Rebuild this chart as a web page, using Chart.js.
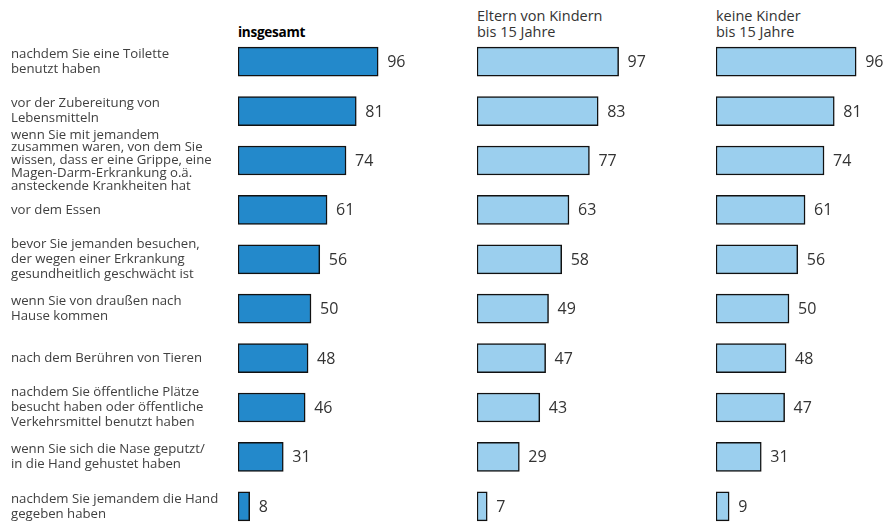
<!DOCTYPE html>
<html>
<head>
<meta charset="utf-8">
<script src="https://cdn.jsdelivr.net/npm/chart.js@4/dist/chart.umd.min.js"></script>
<style>
  html, body { margin: 0; padding: 0; background: #fff; overflow: hidden; }
  body { width: 886px; height: 525px; position: relative; font-family: "Open Sans", sans-serif; }
  .head { position: absolute; font-size: 14.5px; line-height: 16px; color: #333; }
  .head.bold { font-size: 13.6px; font-weight: bold; color: #000; letter-spacing: -0.3px; }
  canvas { position: absolute; top: 0; }
</style>
</head>
<body>
<div class="head bold" style="left:238px; top:24px;">insgesamt</div>
<div class="head" style="left:477px; top:8px;">Eltern von Kindern<br>bis 15 Jahre</div>
<div class="head" style="left:716px; top:8px;">keine Kinder<br>bis 15 Jahre</div>

<div style="position:absolute;left:0;top:0;width:460px;height:531px;"><canvas id="c1"></canvas></div>
<div style="position:absolute;left:477px;top:0;width:200px;height:531px;"><canvas id="c2"></canvas></div>
<div style="position:absolute;left:716px;top:0;width:170px;height:531px;"><canvas id="c3"></canvas></div>

<script>
const kategorien = [
  ['nachdem Sie eine Toilette', 'benutzt haben'],
  ['vor der Zubereitung von', 'Lebensmitteln'],
  ['wenn Sie mit jemandem', 'zusammen waren, von dem Sie', 'wissen, dass er eine Grippe, eine', 'Magen-Darm-Erkrankung o.ä.', 'ansteckende Krankheiten hat'],
  'vor dem Essen',
  ['bevor Sie jemanden besuchen,', 'der wegen einer Erkrankung', 'gesundheitlich geschwächt ist'],
  ['wenn Sie von draußen nach', 'Hause kommen'],
  'nach dem Berühren von Tieren',
  ['nachdem Sie öffentliche Plätze', 'besucht haben oder öffentliche', 'Verkehrsmittel benutzt haben'],
  ['wenn Sie sich die Nase geputzt/', 'in die Hand gehustet haben'],
  ['nachdem Sie jemandem die Hand', 'gegeben haben']
];
const insgesamt = [96, 81, 74, 61, 56, 50, 48, 46, 31, 8];
const eltern = [97, 83, 77, 63, 58, 49, 47, 43, 29, 7];
const keineKinder = [96, 81, 74, 61, 56, 50, 48, 47, 31, 9];

const FONT = '"Open Sans", sans-serif';

const valueLabels = {
  id: 'valueLabels',
  afterDatasetsDraw(chart) {
    const ctx = chart.ctx;
    const meta = chart.getDatasetMeta(0);
    const data = chart.data.datasets[0].data;
    ctx.save();
    ctx.font = '16px ' + FONT;
    ctx.fillStyle = '#333';
    ctx.textAlign = 'left';
    ctx.textBaseline = 'middle';
    meta.data.forEach((bar, i) => {
      ctx.fillText(String(data[i]), bar.x + 9, bar.y + 1);
    });
    ctx.restore();
  }
};

function makeChart(id, values, color, showLabels, padRight) {
  return new Chart(document.getElementById(id), {
    type: 'bar',
    data: {
      labels: kategorien,
      datasets: [{
        data: values,
        backgroundColor: color,
        borderColor: '#111',
        borderWidth: 1.5,
        borderSkipped: false,
        barThickness: 29
      }]
    },
    options: {
      indexAxis: 'y',
      responsive: true,
      maintainAspectRatio: false,
      animation: false,
      layout: { padding: { top: 37, left: showLabels ? 11 : 0, right: padRight, bottom: 0 } },
      plugins: { legend: { display: false }, tooltip: { enabled: false } },
      scales: {
        x: { display: false, min: 0, max: 100 },
        y: {
          display: showLabels,
          grid: { display: false, drawTicks: false },
          border: { display: false },
          afterFit(scale) {
            if (showLabels) scale.width = 227;
            scale.paddingTop = 0;
            scale.paddingBottom = 0;
          },
          ticks: {
            autoSkip: false,
            crossAlign: 'far',
            color: '#404040',
            padding: 0,
            font: (c) => ({ family: FONT, size: 13.2, lineHeight: c.index === 2 ? 0.97 : 1.14 })
          }
        }
      }
    },
    plugins: [valueLabels]
  });
}

makeChart('c1', insgesamt, '#2389cb', true, 76);
makeChart('c2', eltern, '#9bcfee', false, 54);
makeChart('c3', keineKinder, '#9bcfee', false, 24);
</script>
</body>
</html>
